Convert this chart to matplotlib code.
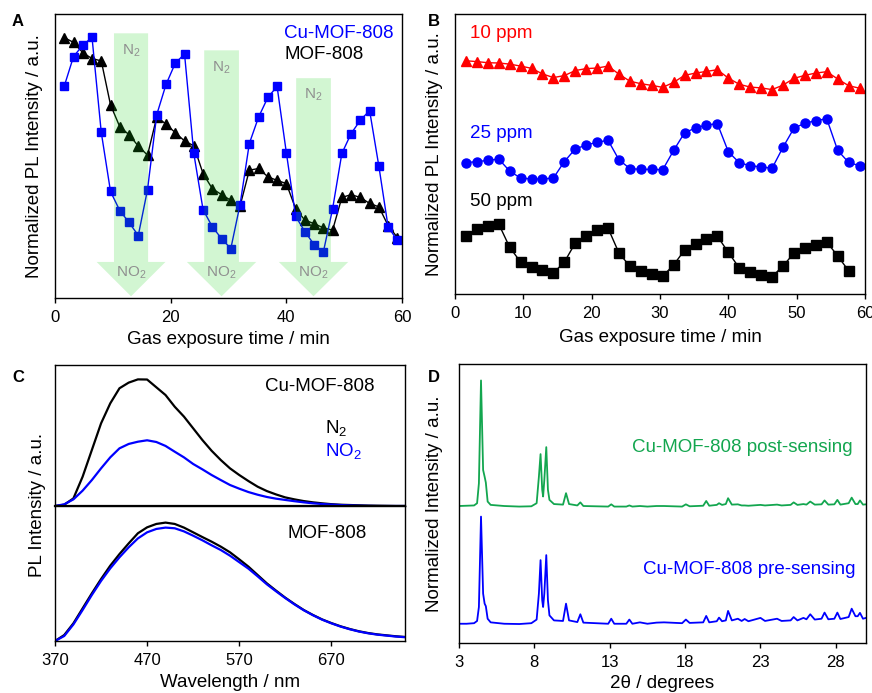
import matplotlib
matplotlib.use('Agg')
import matplotlib.pyplot as plt

plt.rcParams['font.family'] = ['Liberation Sans', 'DejaVu Sans']
plt.rcParams['mathtext.default'] = 'regular'
plt.rcParams['axes.linewidth'] = 1.0
plt.rcParams['xtick.major.width'] = 1.0
plt.rcParams['xtick.major.size'] = 3.5
plt.rcParams['xtick.labelsize'] = 12

BLUE = '#0000ff'
GREEN = '#13a64f'
FS = 13.5

# ---- panel A / B: time axis (min)
time = [1.6, 3.2, 4.8, 6.4, 8.0, 9.6, 11.2, 12.8, 14.4, 16.0, 17.6, 19.2, 20.8,
        22.4, 24.0, 25.6, 27.2, 28.8, 30.4, 32.0, 33.6, 35.2, 36.8, 38.4, 40.0,
        41.6, 43.2, 44.8, 46.4, 48.0, 49.6, 51.2, 52.8, 54.4, 56.0, 57.6, 59.2]

# panel A
cu_mof = [0.746, 0.850, 0.890, 0.918, 0.583, 0.375, 0.308, 0.266, 0.220, 0.382,
          0.646, 0.752, 0.827, 0.859, 0.509, 0.311, 0.251, 0.209, 0.174, 0.329,
          0.544, 0.637, 0.706, 0.745, 0.512, 0.288, 0.234, 0.188, 0.162, 0.314,
          0.509, 0.579, 0.626, 0.660, 0.464, 0.250, 0.203]
mof = [0.917, 0.900, 0.864, 0.843, 0.835, 0.680, 0.603, 0.575, 0.535, 0.503,
       0.638, 0.612, 0.582, 0.553, 0.536, 0.438, 0.385, 0.364, 0.344, 0.324,
       0.450, 0.456, 0.427, 0.414, 0.403, 0.315, 0.274, 0.262, 0.247, 0.239,
       0.354, 0.364, 0.354, 0.333, 0.321, 0.255, 0.213]
# gas switching windows (N2 -> NO2 arrows)
n2_start = [10.2, 25.8, 41.7]
n2_end = [16.1, 31.8, 47.7]
arrow_top = [0.932, 0.872, 0.774]

# panel B
ppm10 = [0.833, 0.830, 0.826, 0.825, 0.821, 0.814, 0.806, 0.786, 0.773, 0.780,
         0.798, 0.805, 0.807, 0.814, 0.785, 0.760, 0.751, 0.745, 0.738, 0.756,
         0.781, 0.789, 0.795, 0.801, 0.771, 0.749, 0.739, 0.736, 0.730, 0.746,
         0.770, 0.781, 0.789, 0.794, 0.768, 0.744, 0.735]
ppm25 = [0.469, 0.473, 0.477, 0.482, 0.439, 0.414, 0.411, 0.411, 0.414, 0.473,
         0.518, 0.532, 0.542, 0.549, 0.479, 0.448, 0.445, 0.445, 0.444, 0.513,
         0.576, 0.593, 0.604, 0.608, 0.508, 0.469, 0.458, 0.454, 0.449, 0.524,
         0.592, 0.610, 0.619, 0.626, 0.513, 0.470, 0.458]
ppm50 = [0.207, 0.232, 0.243, 0.250, 0.167, 0.114, 0.096, 0.087, 0.075, 0.114,
         0.182, 0.208, 0.229, 0.235, 0.146, 0.099, 0.083, 0.073, 0.064, 0.104,
         0.157, 0.179, 0.196, 0.206, 0.149, 0.093, 0.079, 0.069, 0.062, 0.100,
         0.146, 0.164, 0.176, 0.186, 0.136, 0.083]

# panel C: PL spectra
wl = [370, 380, 390, 400, 410, 420, 430, 440, 450, 460, 470, 480, 490, 500,
      510, 520, 530, 540, 550, 560, 570, 580, 590, 600, 610, 620, 630, 640,
      650, 660, 670, 680, 690, 700, 710, 720, 730, 740, 750]
cu_n2 = [0.0, 0.009, 0.054, 0.208, 0.397, 0.586, 0.728, 0.835, 0.875, 0.898,
         0.897, 0.842, 0.787, 0.704, 0.634, 0.551, 0.468, 0.392, 0.326, 0.267,
         0.220, 0.177, 0.137, 0.106, 0.082, 0.061, 0.047, 0.035, 0.026, 0.019,
         0.013, 0.009, 0.007, 0.005, 0.003, 0.002, 0.001, 0.0, 0.0]
cu_no2 = [0.0, 0.012, 0.047, 0.109, 0.184, 0.267, 0.345, 0.409, 0.440, 0.456,
          0.466, 0.454, 0.426, 0.385, 0.345, 0.298, 0.260, 0.220, 0.184, 0.149,
          0.123, 0.099, 0.080, 0.064, 0.052, 0.043, 0.034, 0.026, 0.019, 0.014,
          0.010, 0.007, 0.004, 0.002, 0.001, 0.0, 0.0, 0.0, 0.0]
mof_n2 = [0.0, 0.044, 0.131, 0.242, 0.353, 0.459, 0.558, 0.644, 0.723, 0.798,
          0.842, 0.867, 0.877, 0.867, 0.840, 0.805, 0.770, 0.736, 0.699, 0.657,
          0.605, 0.551, 0.489, 0.427, 0.373, 0.321, 0.274, 0.230, 0.193, 0.160,
          0.133, 0.109, 0.089, 0.072, 0.059, 0.049, 0.042, 0.035, 0.030]
mof_no2 = [0.0, 0.037, 0.123, 0.230, 0.341, 0.445, 0.538, 0.620, 0.694, 0.760,
           0.805, 0.830, 0.840, 0.835, 0.812, 0.780, 0.746, 0.709, 0.674, 0.632,
           0.584, 0.536, 0.479, 0.420, 0.368, 0.318, 0.271, 0.228, 0.191, 0.158,
           0.131, 0.107, 0.087, 0.070, 0.057, 0.047, 0.040, 0.033, 0.028]

# panel D: PXRD
two_theta = [3.0, 3.5, 4.0, 4.2, 4.32, 4.46, 4.6, 4.7, 4.78, 4.9, 5.1, 6.0, 7.0,
             7.8, 8.15, 8.3, 8.41, 8.52, 8.58, 8.66, 8.79, 8.9, 9.0, 9.3, 9.9,
             10.1, 10.3, 10.85, 11.05, 11.25, 12.9, 13.1, 13.3, 14.1, 14.3, 14.5,
             15.0, 15.5, 16.1, 16.6, 17.8, 18.05, 18.3, 19.2, 19.4, 19.6, 20.1,
             20.25, 20.45, 20.7, 20.85, 21.1, 21.5, 21.75, 21.95, 22.2, 23.0,
             23.3, 24.1, 24.4, 25.0, 25.2, 25.45, 25.85, 26.05, 26.3, 26.6,
             27.05, 27.25, 27.5, 27.9, 28.1, 28.3, 28.85, 29.05, 29.3, 29.45,
             29.6, 29.8, 30.0]
pre = [6.9, 6.9, 7.1, 7.9, 12.9, 45.3, 17.7, 14.1, 13.2, 8.7, 7.4, 6.9, 6.8,
       7.1, 8.4, 17.7, 29.7, 15.3, 12.9, 17.7, 31.5, 15.3, 9.9, 8.1, 7.9,
       14.1, 8.1, 7.5, 10.3, 7.3, 6.9, 8.7, 6.9, 6.9, 8.4, 6.9,
       7.4, 6.9, 7.3, 7.4, 7.1, 8.4, 7.2, 7.4, 9.7, 7.4, 7.8,
       9.1, 7.8, 8.1, 11.5, 8.1, 8.7, 7.9, 8.6, 7.8, 9.0,
       7.9, 8.7, 7.9, 8.1, 9.3, 8.1, 9.0, 8.5, 10.3, 8.4,
       8.7, 10.9, 8.5, 8.7, 10.9, 8.6, 9.3, 12.3, 9.6, 9.6,
       10.8, 8.7, 9.0]
post = [49.1, 49.2, 49.3, 50.1, 57.2, 94.1, 62.0, 59.6, 57.5, 50.7, 49.5, 49.1, 48.9,
        49.0, 50.1, 59.6, 67.7, 54.9, 52.5, 58.4, 70.2, 54.9, 51.3, 49.8, 49.6,
        53.7, 49.8, 49.3, 50.4, 49.1, 48.9, 49.7, 48.9, 48.9, 49.3, 48.9,
        49.1, 48.9, 49.1, 49.1, 48.9, 49.7, 49.0, 49.2, 50.9, 49.2, 49.5,
        50.1, 49.5, 49.8, 51.9, 49.6, 49.7, 49.3, 49.3, 49.2, 49.5,
        49.3, 49.6, 49.3, 49.5, 50.4, 49.5, 49.8, 49.6, 50.7, 49.6,
        49.7, 51.1, 49.6, 49.7, 51.3, 49.6, 50.1, 52.1, 49.8, 49.8,
        51.1, 49.6, 49.7]


fig = plt.figure(figsize=(8.72, 6.93), dpi=100)
W, H = 872.0, 693.0


def add_ax(left, top, right, bottom):
    return fig.add_axes([left / W, 1 - bottom / H, (right - left) / W, (bottom - top) / H])


def style(ax):
    ax.set_yticks([])
    ax.tick_params(axis='x', direction='out', pad=5)


# ---- A
axA = add_ax(55, 14, 402, 298)
axA.plot(time, mof, '-^', color='black', ms=6.5, lw=1.0, zorder=2)
axA.plot(time, cu_mof, '-s', color=BLUE, ms=6.3, lw=1.0, zorder=2)
for x0, x1, top in zip(n2_start, n2_end, arrow_top):
    mid = (x0 + x1) / 2
    head = 3.0
    xs = [x0, x1, x1, x1 + head, mid, x0 - head, x0]
    ys = [top, top, 0.127, 0.127, 0.006, 0.127, 0.127]
    axA.fill(xs, ys, color='#10d010', alpha=0.19, lw=0, zorder=3)
    axA.text(mid, top - 0.06, 'N$_2$', color='#909090', fontsize=11,
             ha='center', va='center', zorder=4)
    axA.text(mid, 0.088, 'NO$_2$', color='#909090', fontsize=11,
             ha='center', va='center', zorder=4)
axA.set_xlim(0, 60)
axA.set_ylim(0, 1)
axA.set_xticks([0, 20, 40, 60])
style(axA)
axA.text(0.66, 0.933, 'Cu-MOF-808', color=BLUE, fontsize=FS, transform=axA.transAxes, va='center')
axA.text(0.66, 0.859, 'MOF-808', color='black', fontsize=FS, transform=axA.transAxes, va='center')
axA.set_xlabel('Gas exposure time / min', fontsize=FS)
axA.set_ylabel('Normalized PL Intensity / a.u.', fontsize=FS)
axA.xaxis.set_label_coords(0.5, -0.116)
axA.yaxis.set_label_coords(-0.035, 0.5)

# ---- B
axB = add_ax(455, 14, 865, 294)
axB.plot(time, ppm10, '-^', color='#ff0000', ms=6.5, lw=1.0)
axB.plot(time, ppm25, '-o', color=BLUE, ms=6.5, lw=1.0)
axB.plot(time[:len(ppm50)], ppm50, '-s', color='black', ms=6.5, lw=1.0)
axB.set_xlim(0, 60)
axB.set_ylim(0, 1)
axB.set_xticks(range(0, 61, 10))
style(axB)
for label, y, c in [('10 ppm', 0.932, '#ff0000'), ('25 ppm', 0.575, BLUE), ('50 ppm', 0.332, 'black')]:
    axB.text(0.037, y, label, color=c, fontsize=FS, transform=axB.transAxes, va='center')
axB.set_xlabel('Gas exposure time / min', fontsize=FS)
axB.set_ylabel('Normalized PL Intensity / a.u.', fontsize=FS)
axB.xaxis.set_label_coords(0.5, -0.125)
axB.yaxis.set_label_coords(-0.029, 0.5)

# ---- C
axC1 = add_ax(55, 365, 405, 506)
axC2 = add_ax(55, 506, 405, 641)
axC1.plot(wl, cu_n2, color='black', lw=1.6)
axC1.plot(wl, cu_no2, color=BLUE, lw=1.6)
axC2.plot(wl, mof_n2, color='black', lw=1.6)
axC2.plot(wl, mof_no2, color=BLUE, lw=1.6)
for ax in (axC1, axC2):
    ax.set_xlim(370, 750)
    ax.set_ylim(0, 1)
    style(ax)
axC1.spines['bottom'].set_linewidth(1.6)
axC1.set_xticks([])
axC2.set_xticks([370, 470, 570, 670])
axC1.text(0.60, 0.851, 'Cu-MOF-808', fontsize=FS, transform=axC1.transAxes, va='center')
axC1.text(0.771, 0.553, 'N$_2$', fontsize=FS, transform=axC1.transAxes, va='center')
axC1.text(0.771, 0.39, 'NO$_2$', color=BLUE, fontsize=FS, transform=axC1.transAxes, va='center')
axC2.text(0.663, 0.80, 'MOF-808', fontsize=FS, transform=axC2.transAxes, va='center')
axC2.set_xlabel('Wavelength / nm', fontsize=FS)
axC2.xaxis.set_label_coords(0.5, -0.244)
fig.text(38 / W, 1 - 505 / H, 'PL Intensity / a.u.', rotation=90, fontsize=FS,
         ha='center', va='center')

# ---- D
axD = add_ax(459, 364, 866, 643)
axD.plot(two_theta, post, color=GREEN, lw=1.3)
axD.plot(two_theta, pre, color=BLUE, lw=1.3)
axD.set_xlim(3, 30)
axD.set_ylim(0, 100)
axD.set_xticks([3, 8, 13, 18, 23, 28])
style(axD)
axD.text(0.966, 0.699, 'Cu-MOF-808 post-sensing', color=GREEN, fontsize=FS,
         transform=axD.transAxes, ha='right', va='center')
axD.text(0.973, 0.265, 'Cu-MOF-808 pre-sensing', color=BLUE, fontsize=FS,
         transform=axD.transAxes, ha='right', va='center')
axD.set_xlabel('2θ / degrees', fontsize=FS)
axD.set_ylabel('Normalized Intensity / a.u.', fontsize=FS)
axD.xaxis.set_label_coords(0.5, -0.115)
axD.yaxis.set_label_coords(-0.039, 0.5)

# panel letters
for letter, x, y in [('A', 12, 22), ('B', 428, 22), ('C', 12, 378), ('D', 428, 378)]:
    fig.text(x / W, 1 - y / H, letter, fontsize=12, fontweight='bold', va='center')

fig.savefig('out.png', dpi=100)
